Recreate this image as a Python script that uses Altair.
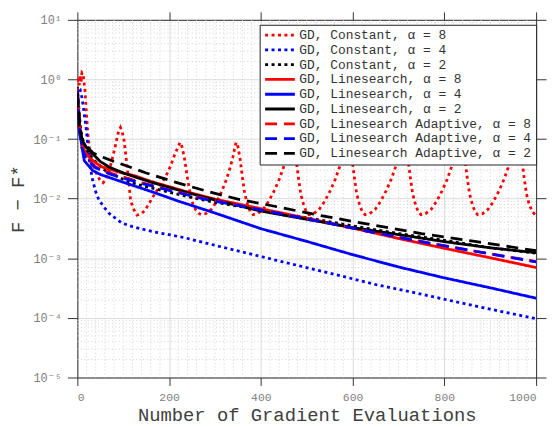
import altair as alt
import pandas as pd

SERIES = [
    "GD, Constant, α = 8",
    "GD, Constant, α = 4",
    "GD, Constant, α = 2",
    "GD, Linesearch, α = 8",
    "GD, Linesearch, α = 4",
    "GD, Linesearch, α = 2",
    "GD, Linesearch Adaptive, α = 8",
    "GD, Linesearch Adaptive, α = 4",
    "GD, Linesearch Adaptive, α = 2",
]
COLORS = ["#ff0000", "#0000ff", "#000000"] * 3
DASHES = [[3, 3.5]] * 3 + [[1, 0]] * 3 + [[12, 7]] * 3

# GD, Constant, alpha = 8 (oscillating)
C8_X = [0, 2, 4, 6, 8, 10, 12, 14, 17, 20, 23, 26, 30, 35, 42, 50, 56, 62, 68, 74, 80, 86, 90,
        94, 98, 102, 106, 110, 116, 122, 130, 140, 148, 159, 170, 181, 192, 203, 213, 219,
        224, 228, 234, 240, 246, 252, 258, 264, 270, 280, 292, 304, 315, 325, 333, 339, 343,
        346, 350, 355, 360, 365, 371, 377, 383, 393, 405, 417, 429, 440, 449, 456, 462,
        468, 472, 477, 482, 487, 493, 499, 505, 515, 527, 539, 551, 562, 571, 578, 584,
        590, 594, 599, 604, 609, 615, 621, 627, 637, 649, 661, 673, 684, 693, 700, 706,
        712, 716, 721, 726, 731, 737, 743, 749, 759, 771, 783, 795, 806, 815, 822, 828,
        836, 840, 845, 850, 855, 861, 867, 873, 883, 895, 907, 919, 930, 939, 946, 952,
        960, 964, 969, 974, 979, 985, 992, 1000]
C8_Y = [0.9, 1.1, 0.8, 1.2, 0.9, 1.3, 1.25, 1.0, 0.6, 0.25, 0.12, 0.075, 0.05, 0.035, 0.026, 0.02, 0.0185, 0.021, 0.028, 0.04, 0.062, 0.1, 0.135,
        0.156, 0.13, 0.094, 0.05, 0.027, 0.0095, 0.0068, 0.0053, 0.0056, 0.0065, 0.009, 0.0125, 0.017, 0.023, 0.035, 0.057, 0.072,
        0.088, 0.075, 0.045, 0.022, 0.012, 0.008, 0.0065, 0.0057, 0.0054, 0.0056, 0.0066, 0.009, 0.0135, 0.021, 0.033, 0.05, 0.07,
        0.088, 0.075, 0.045, 0.022, 0.012, 0.008, 0.006, 0.0054, 0.0056, 0.0066, 0.009, 0.0135, 0.021, 0.033, 0.05, 0.07,
        0.09, 0.075, 0.045, 0.022, 0.012, 0.008, 0.006, 0.0054, 0.0056, 0.0066, 0.009, 0.0135, 0.021, 0.033, 0.05, 0.07,
        0.09, 0.075, 0.045, 0.022, 0.012, 0.008, 0.006, 0.0054, 0.0056, 0.0066, 0.009, 0.0135, 0.021, 0.033, 0.05, 0.07,
        0.09, 0.075, 0.045, 0.022, 0.012, 0.008, 0.006, 0.0054, 0.0056, 0.0066, 0.009, 0.0135, 0.021, 0.033, 0.05, 0.07,
        0.09, 0.075, 0.045, 0.022, 0.012, 0.008, 0.006, 0.0054, 0.0056, 0.0066, 0.009, 0.0135, 0.021, 0.033, 0.05, 0.07,
        0.09, 0.075, 0.045, 0.022, 0.012, 0.008, 0.006, 0.0052]

# GD, Constant, alpha = 4
C4_X = [0, 3, 6, 10, 14, 19, 26, 33, 40, 47, 58, 69, 83, 97, 120, 148, 175, 199, 235, 280, 330, 400, 480, 560, 652, 740, 820, 900, 1000]
C4_Y = [0.6, 0.72, 0.68, 0.5, 0.3, 0.155, 0.044, 0.021, 0.013, 0.0095, 0.0072, 0.0057, 0.0047, 0.0039, 0.0034, 0.0030, 0.0027, 0.0025,
        0.0022, 0.0018, 0.00145, 0.00107, 0.00076, 0.00054, 0.00036, 0.00026, 0.00019, 0.00014, 0.000097]

# GD, Constant, alpha = 2
C2_X = [0, 3, 6, 10, 15, 22, 35, 60, 90, 112, 141, 177, 220, 292, 350, 436, 520, 609, 700, 800, 900, 1000]
C2_Y = [0.75, 0.35, 0.18, 0.11, 0.08, 0.062, 0.045, 0.03, 0.023, 0.019, 0.0165, 0.0142, 0.0118, 0.0089, 0.0075, 0.0058, 0.0045,
        0.0034, 0.0026, 0.002, 0.0015, 0.00122]

# GD, Linesearch, alpha = 8
L8_X = [0, 2, 4, 8, 12, 18, 26, 40, 54, 90, 127, 160, 199, 242, 300, 400, 500, 609, 700, 800, 900, 1000]
L8_Y = [0.7, 0.35, 0.2, 0.11, 0.075, 0.058, 0.049, 0.04, 0.034, 0.028, 0.024, 0.0195, 0.016, 0.0128, 0.0098, 0.0068, 0.0047,
        0.0031, 0.00215, 0.00147, 0.00102, 0.0007]

# GD, Linesearch, alpha = 4
L4_X = [0, 2, 4, 8, 15, 33, 50, 91, 162, 220, 300, 400, 500, 600, 700, 800, 900, 1000]
L4_Y = [0.6, 0.25, 0.14, 0.094, 0.0436, 0.0298, 0.0255, 0.0199, 0.0131, 0.0091, 0.00574, 0.00314, 0.00192, 0.00115,
        0.000716, 0.000469, 0.00032, 0.000214]

# GD, Linesearch, alpha = 2
L2_X = [0, 2, 4, 7, 11, 20, 33, 50, 69, 100, 127, 160, 199, 242, 300, 400, 500, 609, 700, 800, 900, 1000]
L2_Y = [0.65, 0.3, 0.155, 0.115, 0.094, 0.072, 0.057, 0.042, 0.034, 0.027, 0.023, 0.019, 0.0155, 0.0125, 0.0095, 0.0062,
        0.0045, 0.0032, 0.0025, 0.0019, 0.0015, 0.00124]

# GD, Linesearch Adaptive, alpha = 8
A8_X = [0, 3, 6, 10, 20, 40, 70, 100, 141, 200, 285, 350, 436, 520, 637, 750, 870, 1000]
A8_Y = [0.7, 0.3, 0.13, 0.075, 0.048, 0.034, 0.027, 0.023, 0.0185, 0.014, 0.0097, 0.0078, 0.0058, 0.0043, 0.0028, 0.0019,
        0.0013, 0.00088]

# GD, Linesearch Adaptive, alpha = 4
A4_X = [0, 3, 6, 10, 20, 40, 70, 100, 141, 200, 285, 350, 436, 520, 637, 750, 870, 1000]
A4_Y = [0.65, 0.25, 0.12, 0.07, 0.045, 0.033, 0.026, 0.022, 0.018, 0.0138, 0.0095, 0.0077, 0.0057, 0.0043, 0.0028, 0.0019,
        0.0013, 0.00087]

# GD, Linesearch Adaptive, alpha = 2
A2_X = [0, 3, 6, 10, 20, 35, 54, 80, 105, 150, 213, 280, 350, 436, 520, 645, 750, 870, 1000]
A2_Y = [0.6, 0.3, 0.15, 0.1, 0.075, 0.058, 0.05, 0.042, 0.036, 0.027, 0.019, 0.0135, 0.0098, 0.0073, 0.0054, 0.0036, 0.0026,
        0.0019, 0.00134]

X_TICKS = [0, 200, 400, 600, 800, 1000]
Y_TICKS = [1e-5, 1e-4, 1e-3, 1e-2, 1e-1, 1, 10]
X_MINOR = [v for v in range(20, 1000, 20) if v % 200 != 0]
Y_MINOR = [k * 10.0 ** e for e in range(-5, 1) for k in range(2, 10)]

ALL = [(C8_X, C8_Y), (C4_X, C4_Y), (C2_X, C2_Y), (L8_X, L8_Y), (L4_X, L4_Y), (L2_X, L2_Y),
       (A8_X, A8_Y), (A4_X, A4_Y), (A2_X, A2_Y)]

rows = []
for name, (xs, ys) in zip(SERIES, ALL):
    for i, (xv, yv) in enumerate(zip(xs, ys)):
        rows.append({"series": name, "x": xv, "y": yv, "i": i})
df = pd.DataFrame(rows)

FONT = "Liberation Mono, DejaVu Sans Mono, monospace"
AXC = "#333333"
xscale = alt.Scale(domain=[0, 1000], nice=False, zero=False)
yscale = alt.Scale(type="log", domain=[1e-5, 10], nice=False)

ylabel_expr = ("datum.value > 5 ? '10¹' : datum.value > 0.5 ? '10⁰' : datum.value > 0.05 ? '10⁻¹' : "
               "datum.value > 0.005 ? '10⁻²' : datum.value > 0.0005 ? '10⁻³' : datum.value > 0.00005 ? '10⁻⁴' : '10⁻⁵'")

legend = alt.Legend(title=None, orient="none", legendX=184, legendY=5, fillColor="white", strokeColor="#222222",
                    padding=4, labelFont=FONT, labelFontSize=13, labelColor="#333333",
                    symbolType="M-3,0H3", symbolSize=100, symbolStrokeWidth=2.8, symbolOffset=10,
                    labelOffset=13, cornerRadius=0, labelLimit=400, rowPadding=0.9)

color = alt.Color("series:N", scale=alt.Scale(domain=SERIES, range=COLORS), legend=legend)
dash = alt.StrokeDash("series:N", scale=alt.Scale(domain=SERIES, range=DASHES), legend=legend)

dummy = pd.DataFrame({"x": [0], "y": [1]})

axes_lb = alt.Chart(dummy).mark_point(opacity=0).encode(
    x=alt.X("x:Q", scale=xscale, axis=alt.Axis(
        orient="bottom", values=X_TICKS, title="Number of Gradient Evaluations", grid=True, gridColor="#dcdcdc",
        tickSize=8, tickColor=AXC, domainColor=AXC, labelFont=FONT, labelFontSize=11.5,
        labelColor="#808080", labelPadding=6, titleFont=FONT, titleFontSize=19, titleFontWeight="normal",
        titleColor="#404040", titlePadding=3, format="d")),
    y=alt.Y("y:Q", scale=yscale, axis=alt.Axis(
        orient="left", values=Y_TICKS, title="F − F*", grid=True, gridColor="#dcdcdc", tickSize=10,
        tickColor=AXC, domainColor=AXC, labelFont=FONT, labelFontSize=12,
        labelColor="#808080", labelPadding=6, labelExpr=ylabel_expr, titleFont=FONT,
        titleFontSize=19, titleFontWeight="normal", titleColor="#404040", titlePadding=6)),
)

axes_tr = alt.Chart(dummy).mark_point(opacity=0).encode(
    x=alt.X("x:Q", scale=xscale, axis=alt.Axis(orient="top", values=X_TICKS, labels=False, title=None, grid=False,
                                                tickSize=8, tickColor=AXC, domainColor=AXC)),
    y=alt.Y("y:Q", scale=yscale, axis=alt.Axis(orient="right", values=Y_TICKS, labels=False, title=None, grid=False,
                                                tickSize=10, tickColor=AXC, domainColor=AXC)),
)

xgrid = alt.Chart(pd.DataFrame({"x": X_MINOR})).mark_rule(color="#d2d2d2", strokeWidth=1, strokeDash=[1, 2.5]).encode(
    x=alt.X("x:Q", scale=xscale, axis=None))
ygrid = alt.Chart(pd.DataFrame({"y": Y_MINOR})).mark_rule(color="#d2d2d2", strokeWidth=1, strokeDash=[1, 2.5]).encode(
    y=alt.Y("y:Q", scale=yscale, axis=None))

base = alt.Chart(df)
lines = []
for name in SERIES:
    lines.append(
        base.transform_filter(alt.datum.series == name).mark_line(strokeWidth=2.8, clip=True, strokeCap="butt").encode(
            x=alt.X("x:Q", scale=xscale, axis=None),
            y=alt.Y("y:Q", scale=yscale, axis=None),
            color=color,
            strokeDash=dash,
            order="i:Q",
        )
    )

chart = alt.layer(axes_lb, axes_tr, xgrid, ygrid, *lines).resolve_scale(x="independent", y="independent").properties(
    width=463, height=361,
    padding={"left": 70, "top": 10, "right": 12, "bottom": 48},
    autosize=alt.AutoSizeParams(type="none"),
).configure_view(stroke=None).configure(background="white")

chart.save("out.html", embed_options={"renderer": "svg", "actions": False})
